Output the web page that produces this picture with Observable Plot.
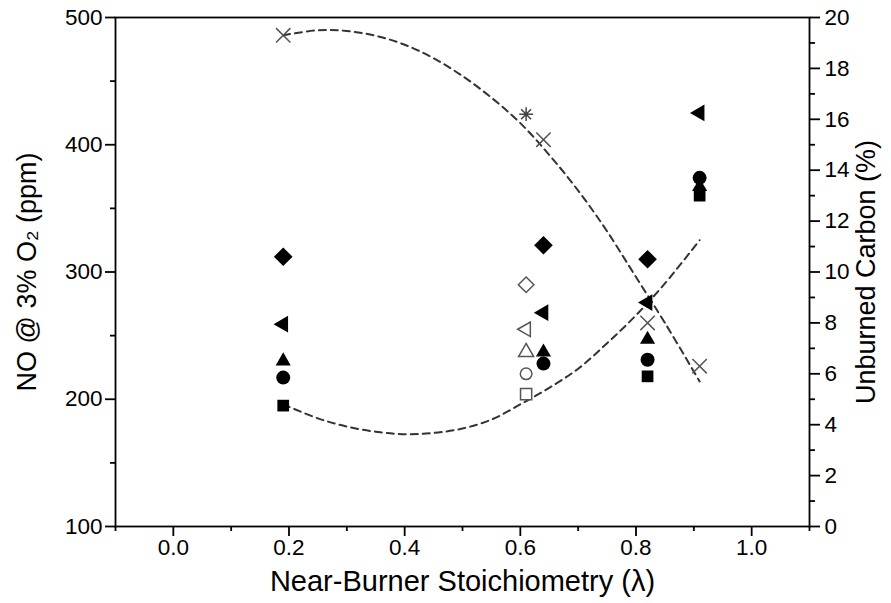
<!DOCTYPE html>
<html>
<head>
<meta charset="utf-8">
<script src="https://cdn.jsdelivr.net/npm/d3@7"></script>
<script src="https://cdn.jsdelivr.net/npm/@observablehq/plot@0.6"></script>
<style>
  html, body { margin: 0; padding: 0; background: #fff; }
  #chart { width: 891px; height: 603px; }
</style>
</head>
<body>
<div id="chart"></div>
<script>
// ---- data ----
const lambdaFilled = [0.19, 0.64, 0.82, 0.91];
const noDiamond = [312, 321, 310, null];
const noTriLeft = [259, 268, 276, 425];
const noTriUp   = [230, 237, 247, 367];
const noCircle  = [217, 228, 231, 374];
const noSquare  = [195, null, 218, 360];

const lambdaOpen = [0.61];
const openDiamond = [290];
const openTriLeft = [255];
const openTriUp   = [237];
const openCircle  = [220];
const openSquare  = [204];

const ubcLambda = [0.19, 0.64, 0.82, 0.91];
const ubcValues = [19.3, 15.2, 8.0, 6.3];
const ubcStarLambda = [0.61];
const ubcStarValues = [16.2];

const fitLambda = [0.19, 0.25, 0.30, 0.35, 0.40, 0.45, 0.50, 0.55, 0.60, 0.65, 0.70, 0.75, 0.80, 0.85, 0.91];
const noFit  = [196, 185, 178.5, 174.5, 172.5, 173.5, 177, 184, 196, 209, 224, 244, 266, 291, 325];
const ubcFit = [19.3, 19.5, 19.47, 19.28, 18.93, 18.4, 17.7, 16.85, 15.85, 14.6, 13.2, 11.6, 9.8, 8.0, 5.7];

const xMajor = [0.0, 0.2, 0.4, 0.6, 0.8, 1.0];
const xMinor = [-0.1, 0.1, 0.3, 0.5, 0.7, 0.9, 1.1];
const yMajor = [100, 200, 300, 400, 500];
const yMinor = [150, 250, 350, 450];
const y2Major = [0, 2, 4, 6, 8, 10, 12, 14, 16, 18, 20];
const y2Minor = [1, 3, 5, 7, 9, 11, 13, 15, 17, 19];

const xTitle = "Near-Burner Stoichiometry (\u03BB)";
const yTitle = "NO @ 3% O\u2082 (ppm)";
const y2Title = "Unburned Carbon (%)";

// ---- helpers ----
// right axis (0..20 %) shares the left scale (100..500 ppm)
const toNO = u => 100 + u * 20;
const fromNO = v => Math.round((v - 100) / 20);

const pts = (xs, ys) => xs.map((x, i) => ({x, y: ys[i]})).filter(d => d.y != null);

const triLeft = {
  draw(context, size) {
    const y = Math.sqrt(size / (Math.sqrt(3) * 3));
    context.moveTo(-2 * y, 0);
    context.lineTo(y, -Math.sqrt(3) * y);
    context.lineTo(y, Math.sqrt(3) * y);
    context.closePath();
  }
};
const star8 = {
  draw(context, size) {
    const r = Math.sqrt(size) / 1.8;
    const s = r * 0.72;
    context.moveTo(-r, 0); context.lineTo(r, 0);
    context.moveTo(0, -r); context.lineTo(0, r);
    context.moveTo(-s, -s); context.lineTo(s, s);
    context.moveTo(-s, s); context.lineTo(s, -s);
  }
};

const INK = "#000";
const GRAY = "#555";
const fontFamily = "'Liberation Sans', Arial, Helvetica, sans-serif";

const filled = (ys, symbol, r) => Plot.dot(pts(lambdaFilled, ys), {x: "x", y: "y", symbol, r, fill: INK, stroke: "none"});
const open = (ys, symbol, r) => Plot.dot(pts(lambdaOpen, ys), {x: "x", y: "y", symbol, r, fill: "white", stroke: GRAY, strokeWidth: 1.5});

const chart = Plot.plot({
  width: 891,
  height: 603,
  marginLeft: 115,
  marginRight: 82,
  marginTop: 17,
  marginBottom: 77,
  style: {fontFamily, fontSize: "22.5px", color: "#000", background: "#fff", overflow: "visible"},
  x: {domain: [-0.1, 1.1], axis: null},
  y: {domain: [100, 500], axis: null},
  marks: [
    // fitted dashed curves
    Plot.line(pts(fitLambda, noFit), {x: "x", y: "y", curve: "catmull-rom", stroke: "#333", strokeWidth: 2, strokeDasharray: "7,5"}),
    Plot.line(fitLambda.map((x, i) => ({x, y: toNO(ubcFit[i])})), {x: "x", y: "y", curve: "catmull-rom", stroke: "#333", strokeWidth: 2, strokeDasharray: "7,5"}),

    // open markers at lambda = 0.61
    open(openSquare, "square", 6.3),
    open(openCircle, "circle", 5.8),
    open(openTriUp, "triangle", 5.6),
    open(openTriLeft, triLeft, 5.4),
    open(openDiamond, "diamond2", 7.0),

    // filled markers
    filled(noSquare, "square", 6.6),
    filled(noTriUp, "triangle", 5.6),
    filled(noCircle, "circle", 7),
    filled(noTriLeft, triLeft, 6.2),
    filled(noDiamond, "diamond2", 8.4),

    // unburned carbon markers (right axis)
    Plot.dot(ubcLambda.map((x, i) => ({x, y: toNO(ubcValues[i])})), {x: "x", y: "y", symbol: "times", r: 6.6, stroke: GRAY, strokeWidth: 1.5}),
    Plot.dot(ubcStarLambda.map((x, i) => ({x, y: toNO(ubcStarValues[i])})), {x: "x", y: "y", symbol: star8, r: 7, stroke: "#444", strokeWidth: 1.5}),

    // frame
    Plot.frame({stroke: INK, strokeWidth: 1.8}),

    // bottom axis
    Plot.axisX({anchor: "bottom", ticks: xMajor, tickSize: 10, tickPadding: 3, strokeWidth: 1.8, tickFormat: d3.format(".1f"), label: null}),
    Plot.axisX({anchor: "bottom", ticks: xMinor, tickSize: 5, strokeWidth: 1.8, tickFormat: () => "", label: null}),

    // left axis
    Plot.axisY({anchor: "left", ticks: yMajor, tickSize: 10, tickPadding: 3, strokeWidth: 1.8, tickFormat: d3.format("d"), label: null}),
    Plot.axisY({anchor: "left", ticks: yMinor, tickSize: 5, strokeWidth: 1.8, tickFormat: () => "", label: null}),

    // right axis
    Plot.axisY({anchor: "right", ticks: y2Major.map(toNO), tickSize: 10, tickPadding: 5, strokeWidth: 1.8, tickFormat: v => String(fromNO(v)), label: null}),
    Plot.axisY({anchor: "right", ticks: y2Minor.map(toNO), tickSize: 5, strokeWidth: 1.8, tickFormat: () => "", label: null}),

    // axis titles
    Plot.text([xTitle], {text: d => d, frameAnchor: "bottom", dy: 55, fontSize: 29, textAnchor: "middle", lineAnchor: "middle"}),
    Plot.text([yTitle], {text: d => d, frameAnchor: "left", dx: -88, rotate: -90, fontSize: 27, textAnchor: "middle", lineAnchor: "middle"}),
    Plot.text([y2Title], {text: d => d, frameAnchor: "right", dx: 57, rotate: -90, fontSize: 27, textAnchor: "middle", lineAnchor: "middle"})
  ]
});

document.getElementById("chart").appendChild(chart);
</script>
</body>
</html>
